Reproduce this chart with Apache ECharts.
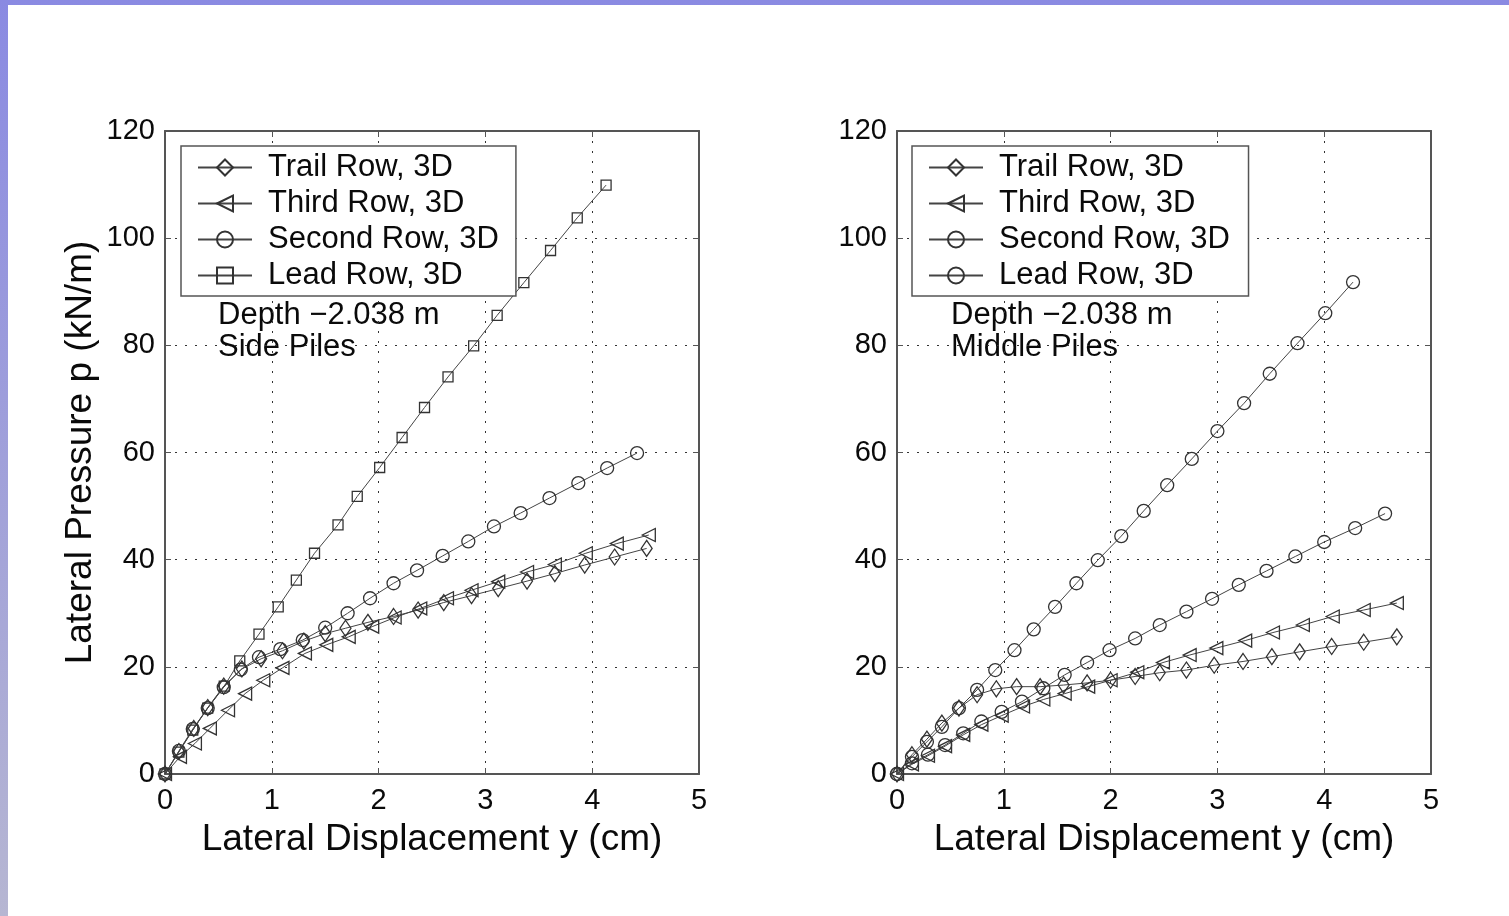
<!DOCTYPE html>
<html>
<head>
<meta charset="utf-8">
<title>Lateral pressure vs displacement</title>
<script src="https://cdn.jsdelivr.net/npm/echarts@6/dist/echarts.min.js"></script>
<style>
  html, body { margin: 0; width: 1509px; height: 916px; overflow: hidden;
    background: linear-gradient(#8a8ae2, #b6b6d2); }
  #paper { position: absolute; left: 8px; top: 5px; right: 0; bottom: 0; background: #fff; }
  #echart { position: absolute; left: 0; top: 0; width: 1509px; height: 916px; }
</style>
</head>
<body>
<div id="paper"></div>
<div id="echart"></div>
<script>
// axis ranges / ticks
const xMin = 0, xMax = 5, xStep = 1;
const yMin = 0, yMax = 120, yStep = 20;

const seriesNames = ['Trail Row, 3D', 'Third Row, 3D', 'Second Row, 3D', 'Lead Row, 3D'];

// side piles (left panel), [y (cm), p (kN/m)]
const sideTrail = [[0,0],[0.13,4.2],[0.27,8.5],[0.40,12.4],[0.55,16.4],[0.72,19.6],[0.90,21.5],[1.10,23.0],[1.30,24.8],[1.50,26.2],[1.69,27.2],[1.90,28.3],[2.14,29.4],[2.37,30.6],[2.61,32.0],[2.87,33.3],[3.12,34.6],[3.39,36.0],[3.65,37.4],[3.93,39.0],[4.21,40.5],[4.51,42.1]];
const sideThird = [[0,0],[0.14,3.2],[0.28,5.7],[0.42,8.5],[0.59,11.9],[0.75,15.0],[0.92,17.5],[1.10,19.8],[1.31,22.5],[1.51,24.1],[1.72,25.6],[1.94,27.5],[2.15,29.2],[2.39,30.9],[2.64,32.8],[2.87,34.3],[3.12,35.9],[3.39,37.7],[3.65,39.1],[3.94,41.2],[4.23,43.0],[4.53,44.6]];
const sideSecond = [[0,0],[0.13,4.3],[0.26,8.4],[0.40,12.3],[0.55,16.2],[0.71,19.5],[0.88,21.8],[1.08,23.3],[1.29,25.0],[1.50,27.3],[1.71,30.0],[1.92,32.8],[2.14,35.6],[2.36,38.0],[2.60,40.7],[2.84,43.4],[3.08,46.2],[3.33,48.7],[3.60,51.5],[3.87,54.3],[4.14,57.1],[4.42,59.9]];
const sideLead = [[0,0],[0.13,4.1],[0.26,8.2],[0.40,12.3],[0.555,16.4],[0.70,21.1],[0.88,26.1],[1.06,31.2],[1.23,36.2],[1.40,41.2],[1.62,46.5],[1.80,51.8],[2.01,57.2],[2.22,62.8],[2.43,68.4],[2.65,74.1],[2.89,79.9],[3.11,85.6],[3.36,91.7],[3.61,97.7],[3.86,103.8],[4.13,109.9]];

// middle piles (right panel)
const midTrail = [[0,0],[0.14,3.6],[0.28,6.5],[0.42,9.5],[0.58,12.3],[0.75,14.8],[0.93,15.9],[1.12,16.3],[1.34,16.3],[1.56,16.6],[1.78,17.0],[2.00,17.5],[2.23,18.2],[2.46,18.9],[2.71,19.4],[2.97,20.3],[3.24,21.0],[3.51,21.9],[3.77,22.8],[4.07,23.8],[4.37,24.6],[4.68,25.6]];
const midThird = [[0,0],[0.14,1.8],[0.29,3.4],[0.45,5.2],[0.62,7.3],[0.79,9.2],[0.98,10.9],[1.18,12.6],[1.37,13.9],[1.57,15.0],[1.79,16.3],[2.00,17.5],[2.25,19.0],[2.49,20.8],[2.74,22.2],[2.99,23.5],[3.26,24.9],[3.52,26.4],[3.80,27.8],[4.08,29.4],[4.37,30.6],[4.68,31.9]];
const midSecond = [[0,0],[0.14,2.0],[0.29,3.6],[0.45,5.4],[0.62,7.6],[0.79,9.8],[0.98,11.6],[1.17,13.5],[1.37,16.0],[1.57,18.5],[1.78,20.8],[1.99,23.1],[2.23,25.3],[2.46,27.8],[2.71,30.3],[2.95,32.7],[3.20,35.3],[3.46,37.9],[3.73,40.6],[4.00,43.3],[4.29,45.9],[4.57,48.6]];
const midLead = [[0,0],[0.14,3.2],[0.28,6.0],[0.42,8.8],[0.58,12.3],[0.75,15.7],[0.92,19.4],[1.10,23.1],[1.28,27.0],[1.48,31.2],[1.68,35.6],[1.88,39.9],[2.10,44.4],[2.31,49.1],[2.53,53.9],[2.76,58.8],[3.00,64.0],[3.25,69.2],[3.49,74.7],[3.75,80.4],[4.01,86.0],[4.27,91.8]];

const notes = [['Depth \u22122.038 m', 'Side Piles'], ['Depth \u22122.038 m', 'Middle Piles']];

const $font = 'Liberation Sans, Arial, sans-serif';
const frame = '#555';
const ink = '#0a0a0a';

function mainX(grid) {
    return {
        gridIndex: grid, type: 'value', min: xMin, max: xMax, interval: xStep,
        name: 'Lateral Displacement y (cm)', nameLocation: 'middle', nameGap: 47,
        nameTextStyle: { fontSize: 37, color: ink, fontFamily: $font },
        axisLine: { onZero: false, lineStyle: { color: frame, width: 2 } },
        axisTick: { inside: true, length: 6, lineStyle: { color: frame } },
        axisLabel: { fontSize: 29, color: ink, fontFamily: $font, margin: 12 },
        splitLine: { show: true, lineStyle: { type: [2, 8], color: '#333' } }
    };
}
function mainY(grid) {
    return {
        gridIndex: grid, type: 'value', min: yMin, max: yMax, interval: yStep,
        name: grid === 0 ? 'Lateral Pressure p (kN/m)' : '', nameLocation: 'middle', nameGap: 66,
        nameTextStyle: { fontSize: 37, color: ink, fontFamily: $font },
        axisLine: { show: true, onZero: false, lineStyle: { color: frame, width: 2 } },
        axisTick: { show: true, inside: true, length: 6, lineStyle: { color: frame } },
        axisLabel: { fontSize: 29, color: ink, fontFamily: $font, margin: 10 },
        splitLine: { show: true, lineStyle: { type: [2, 8], color: '#333' } }
    };
}
// top / right edges of the box, with inward ticks only
function edgeX(grid) {
    return {
        gridIndex: grid, type: 'value', position: 'top', min: xMin, max: xMax, interval: xStep,
        axisLine: { onZero: false, lineStyle: { color: frame, width: 2 } },
        axisTick: { inside: true, length: 6, lineStyle: { color: frame } },
        axisLabel: { show: false }, splitLine: { show: false }
    };
}
function edgeY(grid) {
    return {
        gridIndex: grid, type: 'value', position: 'right', min: yMin, max: yMax, interval: yStep,
        axisLine: { show: true, onZero: false, lineStyle: { color: frame, width: 2 } },
        axisTick: { show: true, inside: true, length: 6, lineStyle: { color: frame } },
        axisLabel: { show: false }, splitLine: { show: false }
    };
}

function line(name, data, axis, symbol, size, rotate) {
    return {
        name: name, type: 'line', data: data,
        xAxisIndex: axis, yAxisIndex: axis,
        symbol: symbol, symbolSize: size, symbolRotate: rotate || 0,
        lineStyle: { color: '#444', width: 1 },
        itemStyle: { color: 'transparent', borderColor: '#333', borderWidth: 1.3 },
        emphasis: { disabled: true }
    };
}

// right panel names get a trailing space so each legend picks its own markers
const midNames = seriesNames.map(n => n + ' ');

function legend(left, names, padRight) {
    return {
        left: left, top: 146, orient: 'vertical',
        data: names,
        backgroundColor: '#fff', borderColor: frame, borderWidth: 1.5,
        padding: [6, padRight, 5, 16], itemGap: 5, itemWidth: 54, itemHeight: 20,
        textStyle: { fontSize: 31, color: ink, fontFamily: $font, padding: [0, 0, 0, 11] },
        selectedMode: false
    };
}

function note(left, lines) {
    return lines.map((t, i) => ({
        type: 'text', left: left, top: 300 + i * 32,
        style: { text: t, fontSize: 31, fill: ink, fontFamily: $font }
    }));
}

let myChart = echarts.init(document.getElementById('echart'));
var option = {
    animation: false,
    grid: [
        { left: 165, top: 131, width: 534, height: 643 },
        { left: 897, top: 131, width: 534, height: 643 }
    ],
    xAxis: [mainX(0), edgeX(0), mainX(1), edgeX(1)],
    yAxis: [mainY(0), edgeY(0), mainY(1), edgeY(1)],
    legend: [legend(181, seriesNames, 17), legend(912, midNames, 10)],
    graphic: note(218, notes[0]).concat(note(951, notes[1])),
    series: [
        line(seriesNames[0], sideTrail, 0, 'diamond', [11, 16]),
        line(seriesNames[1], sideThird, 0, 'triangle', 13, 90),
        line(seriesNames[2], sideSecond, 0, 'circle', 13),
        line(seriesNames[3], sideLead, 0, 'rect', 10),
        line(midNames[0], midTrail, 2, 'diamond', [11, 16]),
        line(midNames[1], midThird, 2, 'triangle', 13, 90),
        line(midNames[2], midSecond, 2, 'circle', 13),
        line(midNames[3], midLead, 2, 'circle', 13)
    ]
};
myChart.setOption(option);
</script>
</body>
</html>
